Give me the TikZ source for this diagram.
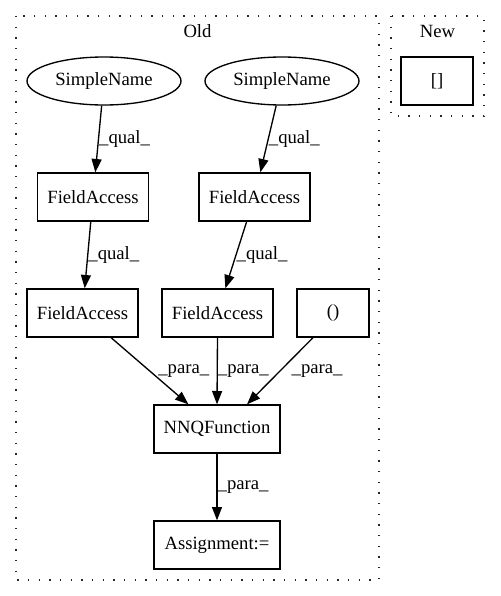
\documentclass[tikz,border=0pt]{standalone}
\usepackage{fontspec}
\setmainfont{Liberation Serif}
\usetikzlibrary{arrows.meta,shapes.geometric}
\begin{document}
\begin{tikzpicture}[x=0.75pt,y=-0.75pt,
  every node/.style={font=\fontsize{14pt}{16pt}\selectfont},
  boxnode/.style={draw,line width=1pt,rectangle,minimum height=36pt,inner sep=0pt},
  ellnode/.style={draw,line width=1pt,ellipse,minimum width=115.5pt,minimum height=36pt,inner sep=0pt},
  cluster/.style={draw,line width=1.1pt,dash pattern=on 1.1pt off 6.9pt,black!85},
  edge/.style={draw,line width=1pt,-{Triangle[length=10pt,width=7.5pt]}},
  elabel/.style={anchor=west,inner sep=0pt}]
\useasboundingbox (0,0) rectangle (500,596);
\draw[cluster] (16,16) rectangle (379,580);
\draw[cluster] (391,16) rectangle (484,116);
\node (oldlbl) at (197.5,31) {Old};
\node (newlbl) at (437.5,31) {New};
\node[boxnode,minimum width=54pt] (br) at (437,81) {[]};
\node[ellnode] (sn1) at (104,81) {SimpleName};
\node[ellnode] (sn2) at (282,81) {SimpleName};
\node[boxnode,minimum width=83.25pt] (fa1) at (93,197) {FieldAccess};
\node[boxnode,minimum width=83.25pt] (fa2) at (254.5,197) {FieldAccess};
\node[boxnode,minimum width=83.25pt] (fa3) at (82.5,313) {FieldAccess};
\node[boxnode,minimum width=83.25pt] (fa4) at (217.5,313) {FieldAccess};
\node[boxnode,minimum width=54pt] (par) at (333,313) {()};
\node[boxnode,minimum width=94.5pt] (nnq) at (217,429) {NNQFunction};
\node[boxnode,minimum width=94.5pt] (asg) at (217,545) {Assignment:=};
\draw[edge] (sn1) -- (fa1) node[elabel,pos=0.5] {\_qual\_};
\draw[edge] (sn2) -- (fa2) node[elabel,pos=0.5] {\_qual\_};
\draw[edge] (fa1) -- (fa3) node[elabel,pos=0.5] {\_qual\_};
\draw[edge] (fa2) -- (fa4) node[elabel,pos=0.5] {\_qual\_};
\draw[edge] (fa3) -- (nnq) node[elabel,pos=0.5,xshift=6pt] {\_para\_};
\draw[edge] (fa4.south) -- (nnq.north) node[elabel,pos=0.5] {\_para\_};
\draw[edge] ([xshift=-15pt]par.south) -- ([xshift=22.5pt]nnq.north) node[elabel,pos=0.5,xshift=8.25pt] {\_para\_};
\draw[edge] (nnq) -- (asg) node[elabel,pos=0.5] {\_para\_};
\end{tikzpicture}
\end{document}
